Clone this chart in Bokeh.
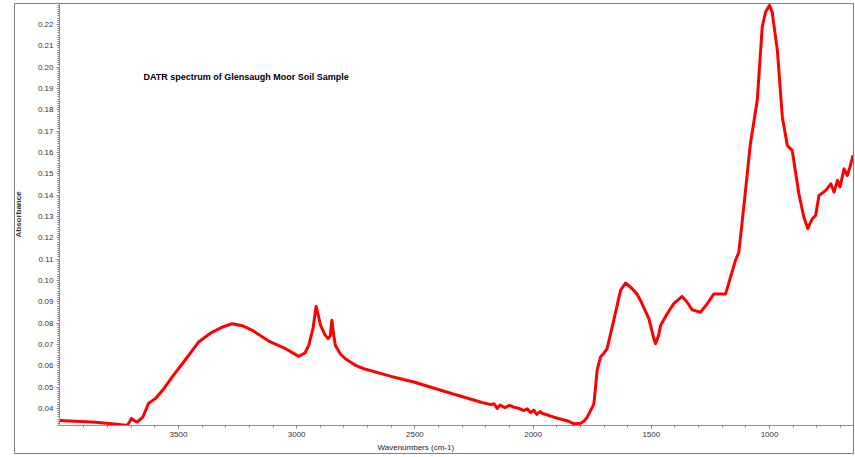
from bokeh.plotting import figure
from bokeh.models import Range1d, SingleIntervalTicker, FixedTicker, Label, PrintfTickFormatter, Title, InlineStyleSheet
from bokeh.embed import file_html
from bokeh.resources import INLINE

wavenumbers = [4003, 3851, 3760, 3717, 3705, 3699, 3690, 3675, 3650, 3627, 3597, 3560,
               3527, 3490, 3457, 3415, 3357, 3310, 3273, 3230, 3188, 3118, 3047, 2991,
               2965, 2949, 2930, 2918, 2905, 2899, 2880, 2867, 2858, 2851, 2843, 2836,
               2815, 2794, 2751, 2716, 2600, 2505, 2363, 2223, 2180, 2165, 2152, 2140, 2120, 2100, 2082,
               2060, 2040, 2025, 2010, 1997, 1985, 1970, 1960, 1912, 1850, 1828, 1800, 1785, 1771, 1743,
               1729, 1715, 1700, 1687, 1659, 1630, 1609, 1581, 1560, 1546, 1510, 1490,
               1482, 1470, 1461, 1433, 1405, 1370, 1350, 1327, 1292, 1264, 1236, 1186,
               1165, 1144, 1130, 1109, 1081, 1052, 1031, 1017, 1008, 1000, 989, 967, 946,
               925, 904, 876, 855, 838, 830, 819, 805, 791, 762, 741, 727,
               713, 702, 685, 671, 660, 647]
absorbance = [0.0344, 0.0335, 0.0326, 0.0320, 0.0340, 0.0353, 0.0345, 0.0336, 0.0360, 0.0423, 0.0447, 0.0495,
              0.0547, 0.0600, 0.0648, 0.0711, 0.0758, 0.0783, 0.0797, 0.0788, 0.0766, 0.0716, 0.0680, 0.0644,
              0.0660, 0.0695, 0.0780, 0.0878, 0.0820, 0.0789, 0.0745, 0.0727, 0.0740, 0.0813, 0.0740, 0.0695,
              0.0655, 0.0633, 0.0602, 0.0586, 0.0550, 0.0524, 0.0476, 0.0430, 0.0418, 0.0422, 0.0400, 0.0416, 0.0404, 0.0414, 0.0406,
              0.0400, 0.0390, 0.0398, 0.0380, 0.0392, 0.0372, 0.0385, 0.0376, 0.0359, 0.0340, 0.0328, 0.0330, 0.0340, 0.0359, 0.0420,
              0.0580, 0.0641, 0.0660, 0.0680, 0.0813, 0.0953, 0.0988, 0.0961, 0.0935, 0.0906, 0.0820, 0.0730,
              0.0703, 0.0740, 0.0789, 0.0844, 0.0891, 0.0925, 0.0900, 0.0862, 0.0851, 0.0890, 0.0936, 0.0936,
              0.1016, 0.1094, 0.1133, 0.1344, 0.1641, 0.1844, 0.2188, 0.2258, 0.2275, 0.2289, 0.2258, 0.2078, 0.1766,
              0.1633, 0.1609, 0.1406, 0.1297, 0.1242, 0.1265, 0.1289, 0.1305, 0.1398, 0.1422, 0.1453, 0.1414,
              0.1469, 0.1438, 0.1523, 0.1492, 0.1531, 0.1586]

x_ticks = [3500, 3000, 2500, 2000, 1500, 1000]
x_minor_ticks = [3900, 3800, 3700, 3600, 3400, 3300, 3200, 3100, 2900, 2800, 2700, 2600,
                 2400, 2300, 2200, 2100, 1900, 1800, 1700, 1600, 1400, 1300, 1200, 1100,
                 900, 800, 700]

title_text = "DATR spectrum of Glensaugh Moor Soil Sample"
x_label = "Wavenumbers (cm-1)"
y_label = "Absorbance"

FONT = "Liberation Sans"

border_css = InlineStyleSheet(css="""
:host { position: relative; }
:host::after {
  content: ""; position: absolute; left: 14px; top: 3px; width: 838px; height: 449px;
  border: 1px solid #808080; pointer-events: none; box-sizing: content-box;
}
""")

p = figure(width=854, height=455, output_backend="svg", toolbar_location=None,
           x_range=Range1d(4003, 645), y_range=Range1d(0.032, 0.2298),
           min_border_left=59, min_border_right=1, min_border_top=3, min_border_bottom=30,
           stylesheets=[border_css])
p.outline_line_color = None
p.xgrid.visible = False
p.ygrid.visible = False
p.background_fill_color = "white"
p.border_fill_color = "white"

p.line(wavenumbers, absorbance, line_color="#ff0000", line_width=3, line_join="round")

# axes
p.xaxis.ticker = FixedTicker(ticks=x_ticks, minor_ticks=x_minor_ticks)
p.yaxis.ticker = SingleIntervalTicker(interval=0.01, num_minor_ticks=10)
p.yaxis.formatter = PrintfTickFormatter(format="%.2f")
for ax in (p.xaxis[0], p.yaxis[0]):
    ax.axis_line_color = "#909090"
    ax.major_tick_line_color = "#808080"
    ax.minor_tick_line_color = "#808080"
    ax.major_label_text_font = FONT
    ax.major_label_text_font_size = "8px"
    ax.major_label_text_color = "#333333"
    ax.major_tick_in = 0
    ax.major_tick_out = 3
    ax.minor_tick_in = 0
    ax.minor_tick_out = 2
p.xaxis.major_label_standoff = 3
p.yaxis.major_label_standoff = 3
p.yaxis.axis_label = y_label
p.yaxis.axis_label_text_font = FONT
p.yaxis.axis_label_text_font_size = "8px"
p.yaxis.axis_label_text_font_style = "bold"
p.yaxis.axis_label_text_color = "#333333"
p.yaxis.axis_label_standoff = 12

p.add_layout(Title(text=x_label, align="left", offset=318, text_font=FONT, text_font_size="8px",
                   text_font_style="normal", text_color="#222222", standoff=2), "below")
p.add_layout(Label(x=3648, y=0.1952, text=title_text, text_align="left", text_baseline="middle",
                   text_font=FONT, text_font_size="9px", text_font_style="bold", text_color="black"))

open("out.html", "w").write(file_html(p, INLINE))
